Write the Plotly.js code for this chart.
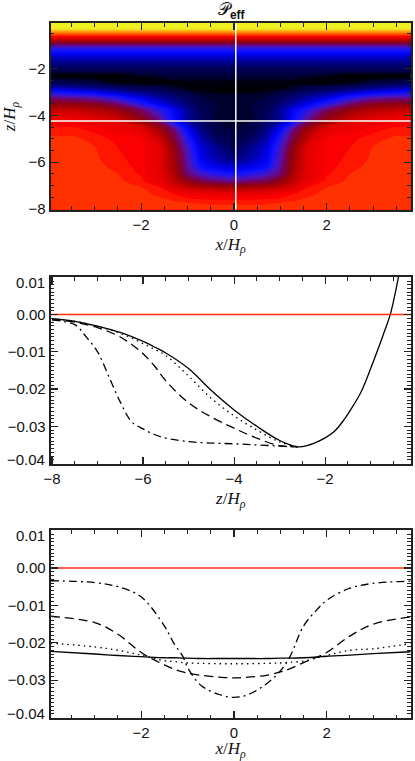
<!DOCTYPE html>
<html>
<head>
<meta charset="utf-8">
<script src="https://cdn.plot.ly/plotly-3.0.1.min.js"></script>
<style>
html, body { margin: 0; padding: 0; background: #fff; }
#chart { width: 415px; height: 761px; }
</style>
</head>
<body>
<div id="chart"></div>
<script>
// field, right half only (picture is symmetric in x)
const fieldX = [0, 0.4, 0.7, 1, 1.3, 1.6, 2, 2.5, 3, 3.5, 3.95];
const fieldZ = [-0.05, -0.15, -0.27, -0.35, -0.45, -0.6, -0.85, -1, -1.2, -1.6, -2, -2.3, -2.6, -2.9, -3.2, -3.5, -3.8, -4.2, -4.6, -5, -5.4, -5.8, -6.2, -6.5, -6.8, -7.1, -7.4, -7.7, -8.04];
const fieldRows = [
  [0.02, 0.02, 0.02, 0.02, 0.02, 0.02, 0.02, 0.02, 0.02, 0.02, 0.02],
  [0.016, 0.016, 0.016, 0.016, 0.016, 0.016, 0.016, 0.016, 0.016, 0.016, 0.016],
  [0.0125, 0.0125, 0.0125, 0.0125, 0.0125, 0.0125, 0.0125, 0.0125, 0.0125, 0.0125, 0.0125],
  [0.009, 0.009, 0.009, 0.009, 0.009, 0.009, 0.009, 0.009, 0.009, 0.009, 0.009],
  [0.004, 0.004, 0.004, 0.004, 0.004, 0.004, 0.004, 0.004, 0.004, 0.004, 0.004],
  [-0.002, -0.002, -0.002, -0.002, -0.002, -0.002, -0.002, -0.002, -0.002, -0.002, -0.002],
  [-0.011, -0.011, -0.011, -0.011, -0.011, -0.011, -0.011, -0.011, -0.011, -0.011, -0.011],
  [-0.016, -0.016, -0.016, -0.016, -0.016, -0.016, -0.016, -0.016, -0.016, -0.016, -0.016],
  [-0.021, -0.021, -0.021, -0.021, -0.021, -0.021, -0.021, -0.021, -0.021, -0.021, -0.021],
  [-0.027, -0.027, -0.027, -0.027, -0.027, -0.027, -0.027, -0.027, -0.027, -0.027, -0.027],
  [-0.032, -0.032, -0.032, -0.032, -0.032, -0.032, -0.032, -0.032, -0.032, -0.032, -0.032],
  [-0.034, -0.034, -0.034, -0.034, -0.034, -0.0345, -0.035, -0.0362, -0.0362, -0.0362, -0.0362],
  [-0.0355, -0.0355, -0.0355, -0.0355, -0.0358, -0.0362, -0.0362, -0.0355, -0.034, -0.033, -0.032],
  [-0.0362, -0.0362, -0.0355, -0.035, -0.034, -0.032, -0.031, -0.029, -0.027, -0.025, -0.024],
  [-0.034, -0.034, -0.034, -0.032, -0.03, -0.028, -0.025, -0.021, -0.018, -0.017, -0.016],
  [-0.034, -0.034, -0.033, -0.03, -0.027, -0.024, -0.02, -0.015, -0.012, -0.011, -0.011],
  [-0.034, -0.034, -0.032, -0.028, -0.023, -0.019, -0.014, -0.01, -0.008, -0.007, -0.007],
  [-0.034, -0.034, -0.0315, -0.028, -0.022, -0.0155, -0.0105, -0.0065, -0.005, -0.0035, -0.003],
  [-0.034, -0.033, -0.029, -0.023, -0.015, -0.0095, -0.005, -0.0035, -0.0025, -0.0015, -0.0015],
  [-0.033, -0.031, -0.027, -0.02, -0.0125, -0.007, -0.003, -0.0025, -0.0013, -0.0008, -0.0008],
  [-0.032, -0.028, -0.025, -0.018, -0.0105, -0.005, -0.0025, -0.002, -0.00095, -0.0007, -0.0006],
  [-0.03, -0.027, -0.024, -0.017, -0.0095, -0.005, -0.0025, -0.0018, -0.0008, -0.0006, -0.0005],
  [-0.025, -0.024, -0.022, -0.016, -0.009, -0.005, -0.0025, -0.0013, -0.0007, -0.0005, -0.0004],
  [-0.021, -0.02, -0.018, -0.015, -0.0085, -0.0048, -0.0022, -0.001, -0.0006, -0.0004, -0.0004],
  [-0.016, -0.015, -0.014, -0.011, -0.0075, -0.0045, -0.0016, -0.0008, -0.0005, -0.0004, -0.0004],
  [-0.009, -0.0085, -0.008, -0.007, -0.0055, -0.0018, -0.00095, -0.0007, -0.0004, -0.0004, -0.0004],
  [-0.004, -0.004, -0.0035, -0.003, -0.0018, -0.0011, -0.0008, -0.0006, -0.0004, -0.0004, -0.0004],
  [-0.0013, -0.0013, -0.0012, -0.00105, -0.0009, -0.0008, -0.0006, -0.0005, -0.0004, -0.0004, -0.0004],
  [-0.0005, -0.0005, -0.0005, -0.0005, -0.0005, -0.0004, -0.0004, -0.0004, -0.0004, -0.0004, -0.0004]
];

// white cross hairs in the top panel
const sliceX = 0.04;
const sliceZ = -4.24;

// middle panel, left branch per line style, then the shared rising branch
const depthZ = [-8, -7.5, -7.25, -7, -6.75, -6.5, -6.25, -6, -5.75, -5.5, -5, -4.5, -4, -3.5, -3, -2.6];
const depthSolid = [-0.0011, -0.0018, -0.0024, -0.0031, -0.0039, -0.0048, -0.0059, -0.0072, -0.0087, -0.0103, -0.0145, -0.0204, -0.0256, -0.03, -0.0338, -0.0355];
const depthDotted = [-0.0011, -0.0018, -0.0024, -0.0032, -0.004, -0.005, -0.0063, -0.0078, -0.0093, -0.011, -0.0165, -0.0225, -0.0272, -0.031, -0.0342, -0.0355];
const depthDashed = [-0.0012, -0.002, -0.0027, -0.0035, -0.0046, -0.006, -0.008, -0.0105, -0.0138, -0.0178, -0.0237, -0.0275, -0.0305, -0.0332, -0.0352, -0.0355];
const depthDashDot = [-0.0015, -0.0027, -0.006, -0.01, -0.0167, -0.0235, -0.0288, -0.0307, -0.0322, -0.0332, -0.0341, -0.0345, -0.0347, -0.035, -0.0353, -0.0355];
const riseZ = [-2.4, -2.2, -2, -1.8, -1.6, -1.4, -1.2, -1, -0.86, -0.7, -0.57, -0.39, -0.3];
const riseValues = [-0.0352, -0.0343, -0.0331, -0.0314, -0.0285, -0.0248, -0.0205, -0.0145, -0.01, -0.0046, 0, 0.01, 0.016];

// bottom panel
const widthX = [-3.95, -3, -2.5, -2, -1.5, -1.3, -1.1, -1, -0.7, -0.3, 0, 0.3, 0.7, 1, 1.2, 1.5, 1.8, 2, 2.5, 3, 3.81];
const widthSolid = [-0.0223, -0.023, -0.0234, -0.0237, -0.024, -0.024, -0.0241, -0.0241, -0.0242, -0.0242, -0.0242, -0.0242, -0.0242, -0.0241, -0.0241, -0.024, -0.0238, -0.0236, -0.0233, -0.0229, -0.0224];
const widthDotted = [-0.0201, -0.0211, -0.022, -0.0233, -0.0248, -0.025, -0.0253, -0.0254, -0.0255, -0.0256, -0.0256, -0.0256, -0.0255, -0.0254, -0.0252, -0.0249, -0.024, -0.0234, -0.022, -0.0216, -0.0202];
const widthDashed = [-0.0129, -0.0146, -0.0177, -0.0226, -0.0259, -0.027, -0.0278, -0.0281, -0.0287, -0.0292, -0.0294, -0.0292, -0.0287, -0.0278, -0.027, -0.0253, -0.0238, -0.0226, -0.0182, -0.015, -0.0131];
const widthDashDot = [-0.0034, -0.0039, -0.005, -0.0077, -0.0155, -0.02, -0.0237, -0.0266, -0.0315, -0.0339, -0.0346, -0.0339, -0.031, -0.0275, -0.0239, -0.0155, -0.011, -0.0086, -0.0054, -0.0041, -0.0035];

const zeroLine = [0, 0];

const fieldColors = [
  [-0.0365, '#000000'], [-0.0355, '#000018'], [-0.0345, '#000040'], [-0.032, '#00005a'], [-0.03, '#000078'], [-0.027, '#0000b0'],
  [-0.024, '#0000f0'], [-0.021, '#1414ff'], [-0.017, '#5014b4'], [-0.014, '#78005a'],
  [-0.011, '#8c0014'], [-0.008, '#b40000'], [-0.005, '#e10000'], [-0.003, '#f00000'],
  [-0.0015, '#ff0000'], [-0.0005, '#ff2800'], [0.003, '#ff6000'], [0.006, '#ff9000'],
  [0.009, '#ffb020'], [0.012, '#f0e620'], [0.014, '#f0f020']
];
const fieldMin = -0.0365, fieldMax = 0.014;
const colorscale = fieldColors.map(c => [(c[0] - fieldMin) / (fieldMax - fieldMin), c[1]]);

// mirror the right half to get the full grid
const fullX = fieldX.slice(1).reverse().map(v => -v).concat(fieldX);
const fullRows = fieldRows.map(r => r.slice(1).reverse().concat(r));

const lineColor = '#222222';
const tickFont = { family: 'Liberation Sans, Arial, sans-serif', size: 15, color: '#111' };
const titleFont = { family: 'Liberation Serif, serif', size: 17, color: '#111' };

function minorTicks(step) {
  return { tickmode: 'linear', tick0: 0, dtick: step, ticks: 'inside', ticklen: 3.5, tickcolor: lineColor, tickwidth: 1 };
}

function axis(extra) {
  return Object.assign({
    showgrid: false, zeroline: false, showline: true, linecolor: lineColor, linewidth: 2,
    mirror: 'ticks', ticks: 'inside', ticklen: 7, tickwidth: 1.2, tickcolor: lineColor,
    tickfont: tickFont
  }, extra);
}

function curve(xs, ys, xa, ya, dash) {
  return { x: xs, y: ys, xaxis: xa, yaxis: ya, type: 'scatter', mode: 'lines',
    line: { color: '#000', width: 1.3, dash: dash, shape: 'spline', smoothing: 1 }, hoverinfo: 'skip' };
}

const dotted = '1.5px,4px', dashed = '9px,5px', dashDot = '8px,4px,2px,4px';
const xLabel = '<i>x</i>/<i>H</i><sub><i>ρ</i></sub>';
const zLabel = '<i>z</i>/<i>H</i><sub><i>ρ</i></sub>';
const xRangeTop = [-3.95, 3.81];

const traces = [
  { type: 'contour', x: fullX, y: fieldZ, z: fullRows, xaxis: 'x', yaxis: 'y',
    colorscale: colorscale, zmin: fieldMin, zmax: fieldMax, showscale: false, hoverinfo: 'skip',
    contours: { coloring: 'fill', start: -0.036, end: 0.014, size: 0.001, showlines: false },
    line: { width: 0 } },
  { x: [sliceX, sliceX], y: [-8.04, -0.05], xaxis: 'x', yaxis: 'y', mode: 'lines', type: 'scatter',
    line: { color: '#fff', width: 1.5 }, hoverinfo: 'skip' },
  { x: xRangeTop, y: [sliceZ, sliceZ], xaxis: 'x', yaxis: 'y', mode: 'lines', type: 'scatter',
    line: { color: '#fff', width: 1.5 }, hoverinfo: 'skip' },

  curve(depthZ.concat(riseZ), depthSolid.concat(riseValues), 'x2', 'y2', 'solid'),
  curve(depthZ, depthDotted, 'x2', 'y2', dotted),
  curve(depthZ, depthDashed, 'x2', 'y2', dashed),
  curve(depthZ, depthDashDot, 'x2', 'y2', dashDot),
  { x: [-8.03, -0.12], y: zeroLine, xaxis: 'x2', yaxis: 'y2', mode: 'lines', type: 'scatter',
    line: { color: '#ff2a10', width: 1.5 }, hoverinfo: 'skip' },

  curve(widthX, widthSolid, 'x3', 'y3', 'solid'),
  curve(widthX, widthDotted, 'x3', 'y3', dotted),
  curve(widthX, widthDashed, 'x3', 'y3', dashed),
  curve(widthX, widthDashDot, 'x3', 'y3', dashDot),
  { x: xRangeTop, y: zeroLine, xaxis: 'x3', yaxis: 'y3', mode: 'lines', type: 'scatter',
    line: { color: '#ff2a10', width: 1.5 }, hoverinfo: 'skip' }
];

const H = 761, W = 415;
const domX = [50.7 / W, 410.7 / W];
const domY = (top, bottom) => [1 - bottom / H, 1 - top / H];
// the end labels sit a little inside the frame, so they are annotations below
const valueTicks = { tickvals: [-0.04, -0.03, -0.02, -0.01, 0, 0.01], ticktext: ['', '−0.03', '−0.02', '−0.01', '0.00', ''] };

function endLabel(text, yref, y, shift) {
  return { xref: 'paper', yref: yref, x: 44.5 / W, y: y, yshift: shift, xanchor: 'right', yanchor: 'middle',
    showarrow: false, text: text, font: tickFont, borderpad: 0, borderwidth: 0 };
}

const layout = {
  width: W, height: H, margin: { l: 0, r: 0, t: 0, b: 0 }, showlegend: false,
  paper_bgcolor: '#fff', plot_bgcolor: '#fff',
  xaxis: axis({ domain: domX, range: xRangeTop, anchor: 'y', tickvals: [-2, 0, 2], ticktext: ['−2', '0', '2'],
    minor: minorTicks(0.5), title: { text: xLabel, font: titleFont, standoff: 6 } }),
  yaxis: axis({ domain: domY(23.3, 209.7), range: [-8.04, -0.05], anchor: 'x', tickvals: [-8, -6, -4, -2], ticktext: ['−8', '−6', '−4', '−2'],
    minor: minorTicks(0.5), title: { text: zLabel, font: titleFont, standoff: 10 } }),
  xaxis2: axis({ domain: domX, range: [-8.03, -0.12], anchor: 'y2', tickvals: [-8, -6, -4, -2], ticktext: ['−8', '−6', '−4', '−2'],
    minor: minorTicks(0.5), title: { text: zLabel, font: titleFont, standoff: 6 } }),
  yaxis2: axis(Object.assign({ domain: domY(277, 464.3), range: [-0.0402, 0.0101], anchor: 'x2', minor: minorTicks(0.001) }, valueTicks)),
  xaxis3: axis({ domain: domX, range: xRangeTop, anchor: 'y3', tickvals: [-2, 0, 2], ticktext: ['−2', '0', '2'],
    minor: minorTicks(0.5), title: { text: xLabel, font: titleFont, standoff: 10 } }),
  yaxis3: axis(Object.assign({ domain: domY(530.3, 718.3), range: [-0.0402, 0.0101], anchor: 'x3', minor: minorTicks(0.001) }, valueTicks)),
  annotations: [
    { xref: 'paper', yref: 'paper', x: 231 / W, y: 1 - 24 / H, xanchor: 'center', yanchor: 'bottom', showarrow: false,
      text: '<span style="font-family:DejaVu Serif, serif">𝒫</span><sub><b>eff</b></sub>',
      font: { family: 'Liberation Sans, sans-serif', size: 17, color: '#111' } },
    endLabel('0.01', 'y2', 0.01, -5),
    endLabel('−0.04', 'y2', -0.04, 4),
    endLabel('0.01', 'y3', 0.01, -5),
    endLabel('−0.04', 'y3', -0.04, 4)
  ]
};

Plotly.newPlot('chart', traces, layout, { displayModeBar: false, staticPlot: true });
</script>
</body>
</html>
